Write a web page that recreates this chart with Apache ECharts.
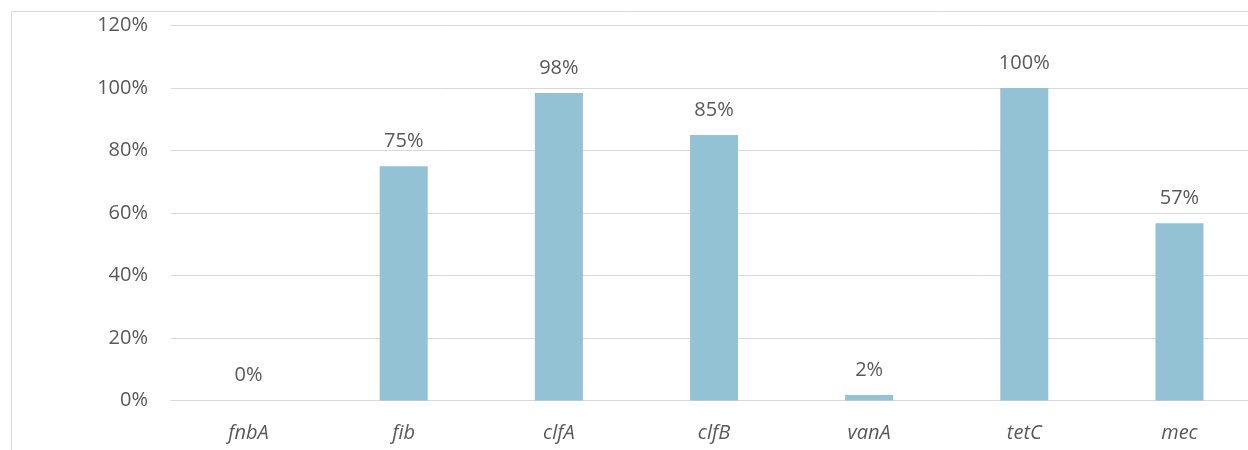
<!DOCTYPE html>
<html>
<head>
<meta charset="utf-8">
<script src="https://cdn.jsdelivr.net/npm/echarts@6/dist/echarts.min.js"></script>
<style>
  html, body { margin: 0; padding: 0; background: #fff; }
  #chart { width: 1248px; height: 450px; }
</style>
</head>
<body>
<div id="chart"></div>
<script>
// gene prevalence (fraction of isolates)
const genes = ['fnbA', 'fib', 'clfA', 'clfB', 'vanA', 'tetC', 'mec'];
const prevalence = [0, 0.75, 0.984, 0.85, 0.018, 1.0, 0.567];
const yTicks = [0, 0.2, 0.4, 0.6, 0.8, 1.0, 1.2];

const TEXT = '#595959';
const GRID = '#D9D9D9';
const FONT = '"Open Sans", "Noto Sans", sans-serif';

const chart = echarts.init(document.getElementById('chart'), null, { renderer: 'canvas' });

chart.setOption({
  backgroundColor: '#fff',
  animation: false,
  graphic: [
    // chart frame, cropped at right/bottom like the source
    { type: 'line', shape: { x1: 11.5, y1: 11.5, x2: 1260, y2: 11.5 }, style: { stroke: GRID, lineWidth: 1 } },
    { type: 'line', shape: { x1: 11.5, y1: 11.5, x2: 11.5, y2: 460 }, style: { stroke: GRID, lineWidth: 1 } },
  ],
  // plot runs a little past the right edge of the picture
  grid: { left: 171, width: 1086, top: 25.5, height: 375, containLabel: false, outerBoundsMode: 'none' },
  xAxis: {
    type: 'category',
    data: genes,
    axisLine: { lineStyle: { color: GRID, width: 1 } },
    axisTick: { show: false },
    axisLabel: {
      color: TEXT, fontSize: 20, fontStyle: 'italic', fontFamily: FONT, margin: 23,
    },
  },
  yAxis: {
    type: 'value',
    min: 0,
    max: yTicks[yTicks.length - 1],
    interval: 0.2,
    axisLine: { show: false },
    axisTick: { show: false },
    axisLabel: {
      color: TEXT, fontSize: 20, fontFamily: FONT, margin: 23,
      formatter: (v) => Math.round(v * 100) + '%',
    },
    splitLine: { lineStyle: { color: GRID, width: 1 } },
  },
  series: [
    {
      type: 'bar',
      data: prevalence,
      barWidth: 48,
      itemStyle: { color: '#92C2D4' },
      label: {
        show: true,
        position: 'top',
        distance: 15,
        color: TEXT,
        fontSize: 20,
        fontFamily: FONT,
        formatter: (p) => Math.round(p.value * 100) + '%',
      },
    },
  ],
});
</script>
</body>
</html>
